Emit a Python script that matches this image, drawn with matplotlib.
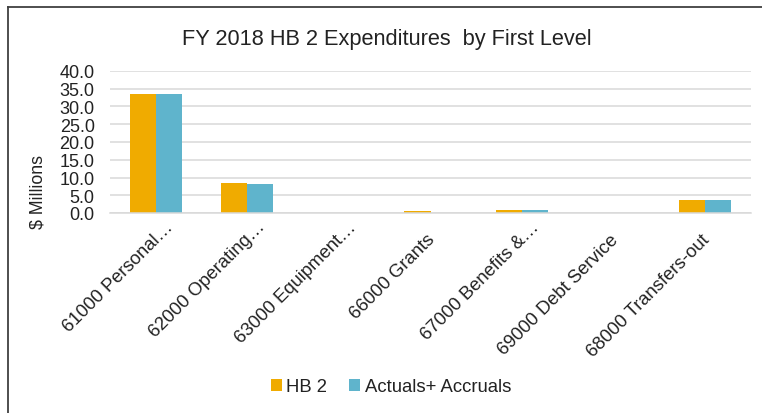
import matplotlib
matplotlib.use("Agg")
import matplotlib.pyplot as plt
import matplotlib.transforms as mtransforms
from matplotlib.patches import Patch
from matplotlib.lines import Line2D
import numpy as np

categories = ["61000 Personal…", "62000 Operating…", "63000 Equipment…", "66000 Grants",
              "67000 Benefits &…", "69000 Debt Service", "68000 Transfers-out"]
hb2 = [33.4, 8.5, 0.1, 0.6, 0.9, 0.05, 3.7]
actuals = [33.4, 8.1, 0.1, 0.1, 0.9, 0.05, 3.7]
series_names = ["HB 2", "Actuals+ Accruals"]
yticks = [0, 5, 10, 15, 20, 25, 30, 35, 40]

plt.rcParams['font.family'] = ['Liberation Sans', 'DejaVu Sans']

W, H = 762, 414
fig = plt.figure(figsize=(W / 100, H / 100), dpi=100)

# plot area in pixels
x0, x1, ytop, ybot = 110, 751, 72, 214
ax = fig.add_axes([x0 / W, 1 - ybot / H, (x1 - x0) / W, (ybot - ytop) / H])

c_hb = "#F0AB00"
c_act = "#5FB4CC"
x = np.arange(len(categories))
bw = 0.284
ax.bar(x - bw / 2, hb2, bw, color=c_hb, zorder=3)
ax.bar(x + bw / 2, actuals, bw, color=c_act, zorder=3)

ax.set_xlim(-0.5, len(categories) - 0.5)
ax.set_ylim(0, 40)
ax.set_yticks(yticks)
ax.set_yticklabels([f"{v:.1f}" for v in yticks], fontsize=13)
ax.tick_params(axis='y', length=0, pad=11, colors='#222222')
ax.yaxis.grid(True, color='#d9d9d9', linewidth=1.1, zorder=0)
ax.set_axisbelow(True)
for s in ['left', 'right', 'top']:
    ax.spines[s].set_visible(False)
ax.spines['bottom'].set_color('#d9d9d9')
ax.spines['bottom'].set_linewidth(1.1)
ax.spines['bottom'].set_zorder(4)

# x tick labels, rotated 45
ax.set_xticks(x)
ax.set_xticklabels([])
ax.tick_params(axis='x', length=0)
for i, lab in enumerate(categories):
    extra = 13 if lab.endswith("…") else 0
    off = mtransforms.ScaledTranslation((5 + extra) / 100, -(27 - extra) / 100, fig.dpi_scale_trans)
    trans = mtransforms.blended_transform_factory(ax.transData, ax.transAxes) + off
    ax.text(i, 0, lab, transform=trans, rotation=45, rotation_mode='anchor',
            ha='right', va='baseline', fontsize=13.3, color='#222222')

# title
fig.text(387 / W, 1 - 40 / H, "FY 2018 HB 2 Expenditures  by First Level",
         ha='center', va='center', fontsize=15.7, color='#222222')

# y label
fig.text(38 / W, 1 - 192 / H, "$ Millions", rotation=90, ha='center', va='center',
         fontsize=12.8, color='#222222')

# legend
handles = [Patch(facecolor=c_hb), Patch(facecolor=c_act)]
fig.legend(handles, series_names, loc='center', bbox_to_anchor=(391 / W, 1 - 388 / H),
           ncol=2, frameon=False, fontsize=13.3, handlelength=0.6, handleheight=0.6,
           handletextpad=0.25, columnspacing=1.2, labelcolor='#222222')

# frame border lines (left and top)
fig.add_artist(Line2D([7.5 / W, 7.5 / W], [0, 1 - 8 / H], color='#404040', linewidth=1.3,
                      transform=fig.transFigure))
fig.add_artist(Line2D([7.5 / W, 1], [1 - 8 / H, 1 - 8 / H], color='#404040', linewidth=1.3,
                      transform=fig.transFigure))

fig.savefig("out.png", dpi=100)
